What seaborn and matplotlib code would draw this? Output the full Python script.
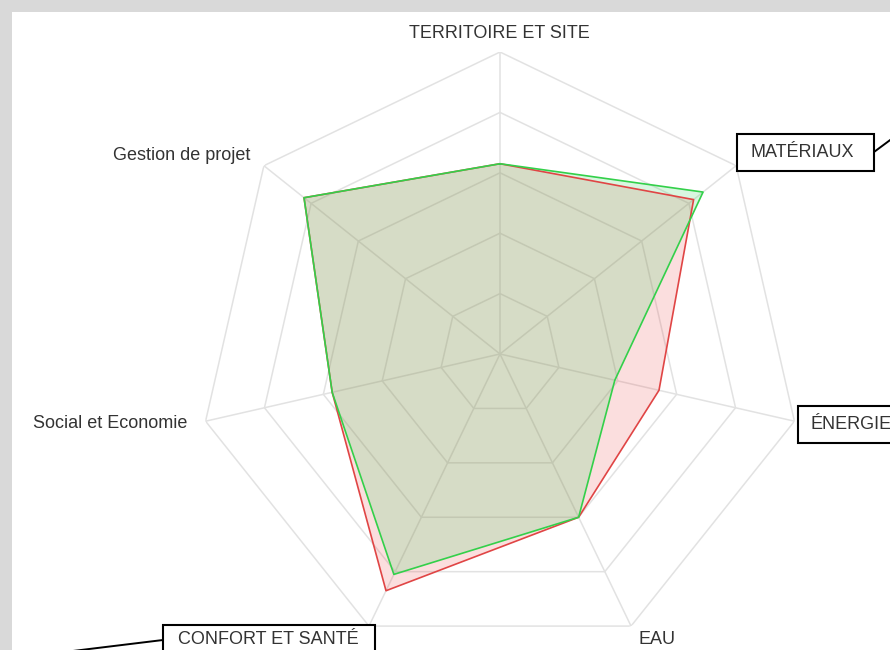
import numpy as np
import pandas as pd
import matplotlib
matplotlib.use("Agg")
import matplotlib.pyplot as plt
from matplotlib.patches import Rectangle
from matplotlib.lines import Line2D
import seaborn as sns

# ===============================
# DATA
# ===============================
categories = ["TERRITOIRE ET SITE", "MATÉRIAUX", "ÉNERGIE", "EAU",
              "CONFORT ET SANTÉ", "Social et Economie", "Gestion de projet"]
red_values = [63, 82, 54, 60, 87, 57, 83]
green_values = [63, 86, 39, 60, 81, 57, 83]
ring_levels = [20, 40, 60, 80, 100]

# ===============================
# STYLE
# ===============================
sns.set_theme(style="white")
plt.rcParams["font.family"] = ["Liberation Sans", "DejaVu Sans"]

W, H = 890, 650
TEXT_COLOR = "#333333"
GRID_COLOR = "#e2e2e2"
RED_LINE, RED_FILL = "#e04545", (235 / 255, 60 / 255, 60 / 255)
GREEN_LINE, GREEN_FILL = "#33d04a", (69 / 255, 213 / 255, 103 / 255)


def px(x, y):
    # image pixel -> figure fraction
    return x / W, 1 - y / H


fig = plt.figure(figsize=(W / 100, H / 100), dpi=100, facecolor="#d9d9d9")
fig.add_artist(Rectangle(px(12, H), 1, 1 - 12 / H, transform=fig.transFigure,
                         facecolor="white", edgecolor="none", zorder=-5))

# polar axes centred on the chart
cx, cy, R = 500, 354, 302
ax = fig.add_axes([(cx - R) / W, (H - cy - R) / H, 2 * R / W, 2 * R / H],
                  projection="polar")
ax.set_facecolor("none")
ax.set_theta_zero_location("N")
ax.set_theta_direction(-1)
ax.set_ylim(0, ring_levels[-1])

n = len(categories)
angles = np.linspace(0, 2 * np.pi, n, endpoint=False)
closed = np.append(angles, angles[0])

# polygon grid + spokes
for lvl in ring_levels:
    ax.plot(closed, [lvl] * (n + 1), color=GRID_COLOR, lw=1.1, zorder=1)
for a in angles:
    ax.plot([a, a], [0, ring_levels[-1]], color=GRID_COLOR, lw=1.1, zorder=1)

# series
df = pd.concat([
    pd.DataFrame({"angle": closed, "value": red_values + red_values[:1], "series": "red"}),
    pd.DataFrame({"angle": closed, "value": green_values + green_values[:1], "series": "green"}),
])

ax.fill(closed, red_values + red_values[:1], color=RED_FILL, alpha=0.17, lw=0, zorder=2)
ax.fill(closed, green_values + green_values[:1], color=GREEN_FILL, alpha=0.2, lw=0, zorder=2)
sns.lineplot(data=df, x="angle", y="value", hue="series", sort=False, estimator=None,
             palette={"red": RED_LINE, "green": GREEN_LINE}, lw=1.2, legend=False,
             ax=ax, zorder=3)

ax.set_xlabel("")
ax.set_ylabel("")
ax.set_xticks([])
ax.set_yticks([])
ax.grid(False)
ax.spines["polar"].set_visible(False)

# ===============================
# LABELS
# ===============================
fs = 13
fig.text(*px(499, 33), categories[0], ha="center", va="center", fontsize=fs, color=TEXT_COLOR)
fig.text(*px(250, 155), categories[6], ha="right", va="center", fontsize=fs, color=TEXT_COLOR)
fig.text(*px(187, 423), categories[5], ha="right", va="center", fontsize=fs, color=TEXT_COLOR)
fig.text(*px(638, 640), categories[3], ha="left", va="center", fontsize=fs, color=TEXT_COLOR)

# boxed labels with connectors
boxes = [
    (categories[1], 737, 134, 874, 171, 750, ((874, 152), (905, 129))),
    (categories[2], 798, 406, 905, 443, 811, None),
    (categories[4], 163, 625, 375, 662, 178, ((163, 640), (40, 655))),
]
for label, x0, y0, x1, y1, tx, conn in boxes:
    if conn:
        (ax_, ay_), (bx_, by_) = conn
        fig.add_artist(Line2D([ax_ / W, bx_ / W], [1 - ay_ / H, 1 - by_ / H],
                              transform=fig.transFigure, color="black", lw=1.4, zorder=4))
    fig.add_artist(Rectangle(px(x0, y1), (x1 - x0) / W, (y1 - y0) / H,
                             transform=fig.transFigure, facecolor="white",
                             edgecolor="black", lw=1.5, zorder=5))
    ty = (y0 + y1) / 2 if y1 < H else 640
    fig.text(*px(tx, ty), label, ha="left", va="center",
             fontsize=fs, color=TEXT_COLOR, zorder=6)

fig.savefig("out.png", dpi=100, facecolor=fig.get_facecolor())
